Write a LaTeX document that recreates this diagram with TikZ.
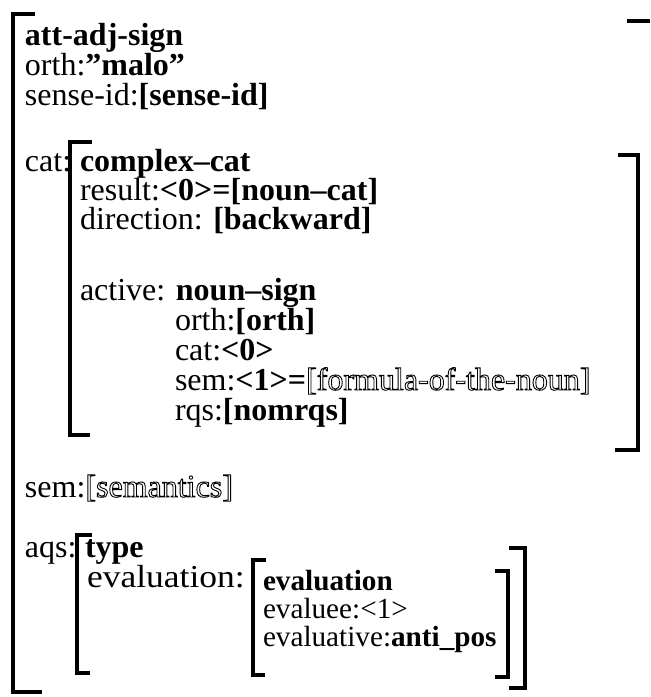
\documentclass[tikz,border=0pt]{standalone}
\usepackage{fontspec}
\setmainfont{Liberation Serif}
\newfontfamily\widefont[FakeStretch=1.11]{Liberation Serif}
% hollow (outlined) lettering for unresolved values: stroke-only text rendering
\newcommand{\hollow}[1]{\special{pdf:literal direct 1 Tr 0.45 w}#1\special{pdf:literal direct 0 Tr}}

\begin{document}
\begin{tikzpicture}[x=0.5pt,y=-0.5pt,
  txt/.style={anchor=base west, inner sep=0pt, outer sep=0pt,
              font=\fontsize{16}{18}\selectfont},
  small/.style={txt, font=\fontsize{14.6}{17}\selectfont},
  brk/.style={line width=1.6pt}]
\useasboundingbox (0,0) rectangle (650,697);

% ---------- outer sign ----------
\draw[brk] (35,14) -- (13,14) -- (13,692) -- (42,692);
\draw[brk] (627,21) -- (650,21);

\node[txt] (type)  at (25,45)  {\textbf{att-adj-sign}};
\node[txt] (orth)  at (25,75)  {orth:\textbf{”malo”}};
\node[txt] (sid)   at (25,105) {sense-id:\textbf{[sense-id]}};

% ---------- cat ----------
\node[txt] (cat)   at (25,171) {cat:};
\draw[brk] (92,142) -- (70,142) -- (70,435) -- (90,435);
\draw[brk] (618,155) -- (638,155) -- (638,450) -- (615,450);

\node[txt] (ccat)  at (80,171) {\textbf{complex–cat}};
\node[txt] (res)   at (80,200) {result:\textbf{<0>=[noun–cat]}};
\node[txt] (dir)   at (80,229) {direction: \textbf{[backward]}};
\node[txt] (act)   at (80,300) {active: \textbf{noun–sign}};
\node[txt] (aorth) at (175,330) {orth:\textbf{[orth]}};
\node[txt] (acat)  at (175,360) {cat:\textbf{<0>}};
\node[txt] (asem)  at (175,390) {sem:\textbf{<1>=}\hollow{[formula-of-the-noun]}};
\node[txt] (arqs)  at (175,420) {rqs:\textbf{[nomrqs]}};

% ---------- sem ----------
\node[txt] (sem)   at (25,497) {sem:\hollow{[semantics]}};

% ---------- aqs ----------
\node[txt] (aqs)   at (25,557) {aqs:};
\draw[brk] (92,535) -- (77,535) -- (77,673) -- (90,673);
\draw[brk] (509,548) -- (525,548) -- (525,688) -- (509,688);

\node[txt] (qtype) at (85,557) {\textbf{type}};
\node[txt] (eval)  at (87,587) {\widefont evaluation:};
\draw[brk] (266,560) -- (253,560) -- (253,675) -- (265,675);
\draw[brk] (495,571) -- (508,571) -- (508,677) -- (495,677);

\node[small] (etype) at (263,590) {\textbf{evaluation}};
\node[small] (evee)  at (263,618) {evaluee:<1>};
\node[small] (evive) at (263,646) {evaluative:\textbf{anti\_pos}};
\end{tikzpicture}
\end{document}
